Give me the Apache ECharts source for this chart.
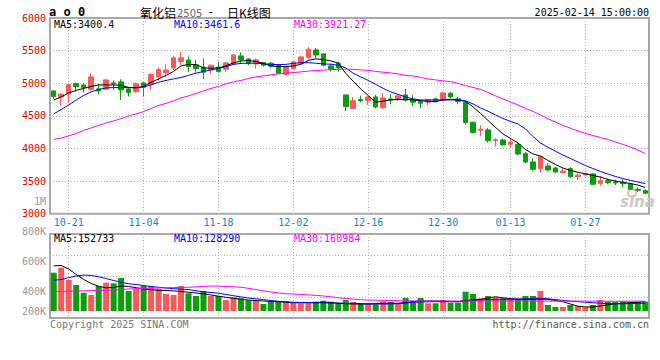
<!DOCTYPE html>
<html><head><meta charset="utf-8">
<script src="https://cdn.jsdelivr.net/npm/echarts@6/dist/echarts.min.js"></script>
<style>html,body{margin:0;padding:0;background:#fff}#c{width:660px;height:360px}</style>
</head><body><div id="c"></div>
<script>
const dates = ['10-17','10-18','10-21','10-22','10-23','10-24','10-25','10-28','10-29','10-30','10-31',
'11-01','11-04','11-05','11-06','11-07','11-08','11-11','11-12','11-13','11-14','11-15','11-18','11-19','11-20','11-21','11-22','11-25','11-26','11-27','11-28','11-29',
'12-02','12-03','12-04','12-05','12-06','12-09','12-10','12-11','12-12','12-13','12-16','12-17','12-18','12-19','12-20','12-23','12-24','12-25','12-26','12-27','12-30','12-31',
'01-02','01-03','01-06','01-07','01-08','01-09','01-10','01-13','01-14','01-15','01-16','01-17','01-20','01-21','01-22','01-23','01-24','01-27',
'02-05','02-06','02-07','02-10','02-11','02-12','02-13','02-14'];
const dateLabels = ['10-21','11-04','11-18','12-02','12-16','12-30','01-13','01-27'];

const opens = [4882,4790,4836,4994,4974,4908,4913,4908,5005,5020, 4913,4871,5005,4985,5097,5163,5235,5332,5358,5281,
5246,5204,5246,5215,5296,5419,5373,5296,5317,5307, 5276,5138,5225,5307,5399,5511,5450,5266,5307,4821,
4611,4749,4733,4790,4626,4760,4760,4821,4755,4719, 4709,4760,4744,4847,4760,4703,4402,4279,4284,4120,
4130,4064,4059,3920,3793,3690,3732,3701,3629,3690, 3570,3594,3609,3466,3506,3486,3481,3456,3374,3353];
const closes = [4795,4830,4979,4948,4933,5097,4882,5051,4990,4898, 4856,4994,4939,5132,5209,5204,5389,5389,5255,5225,
5169,5276,5178,5312,5434,5358,5307,5358,5276,5261, 5154,5246,5327,5404,5522,5434,5276,5215,5235,4641,
4733,4729,4790,4637,4775,4744,4805,4740,4709,4694, 4749,4719,4852,4790,4719,4396,4243,4295,4120,4135,
4054,4100,3916,3793,3681,3874,3670,3640,3655,3568, 3590,3614,3451,3506,3476,3471,3461,3374,3358,3313];
const lows = [4760,4657,4703,4871,4862,4887,4832,4898,4898,4744, 4795,4847,4805,4898,5040,5097,5204,5281,5174,5163,
5062,5143,5174,5178,5276,5296,5276,5225,5255,5240, 5143,5130,5215,5296,5368,5384,5260,5180,5178,4575,
4605,4709,4667,4616,4611,4678,4729,4719,4652,4616, 4667,4709,4729,4770,4678,4365,4230,4192,4089,4028,
4049,4018,3900,3773,3660,3629,3650,3620,3620,3548, 3517,3580,3440,3430,3456,3440,3405,3360,3333,3300];
const highs = [4890,4845,4985,5009,5000,5148,4985,5066,5040,5062, 4944,5010,5015,5154,5240,5292,5419,5481,5409,5358,
5384,5286,5327,5327,5440,5470,5380,5378,5327,5327, 5292,5255,5335,5420,5553,5542,5460,5300,5332,4821,
4790,4810,4790,4821,4852,4832,4832,4913,4816,4739, 4760,4780,4871,4862,4790,4724,4410,4356,4315,4161,
4150,4161,4080,3946,3850,3885,3773,3721,3690,3712, 3620,3625,3625,3578,3537,3520,3528,3466,3405,3370];

const ma5 = [4744,4790,4852,4890,4921,4951,4974,4974,4974,4967, 4936,4928,4951,5013,5066,5120,5181,5266,5289,5286,
5235,5230,5235,5266,5312,5342,5347,5335,5304,5266, 5255,5255,5266,5289,5350,5373,5365,5342,5307,5150,
5030,4913,4810,4710,4725,4744,4752,4752,4744,4733, 4721,4718,4744,4755,4744,4721,4637,4537,4430,4322,
4223,4154,4085,3985,3916,3885,3816,3755,3701,3663, 3635,3612,3586,3563,3525,3502,3479,3463,3440,3400.4];
const ma10 = [4529,4598,4667,4744,4813,4867,4905,4928,4933,4933, 4933,4933,4944,4974,5016,5043,5066,5089,5120,5154,
5181,5204,5227,5255,5289,5304,5307,5307,5299,5289, 5286,5289,5304,5315,5315,5307,5296,5292,5276,5235,
5153,5097,5043,4982,4921,4867,4829,4790,4759,4744, 4744,4744,4744,4744,4744,4729,4683,4621,4570,4514,
4460,4414,4376,4299,4184,4085,4019,3958,3900,3847, 3793,3739,3693,3647,3609,3571,3540,3512,3486,3461.6];
const ma30 = [4138,4161,4192,4230,4276,4315,4353,4391,4422,4457, 4499,4529,4565,4614,4660,4691,4729,4775,4806,4844,
4882,4921,4951,4990,5020,5043,5071,5097,5112,5128, 5143,5154,5163,5174,5186,5194,5201,5209,5212,5215,
5212,5204,5197,5181,5169,5158,5143,5120,5112,5089, 5066,5051,5036,5025,4997,4964,4936,4905,4859,4806,
4759,4713,4667,4614,4568,4514,4453,4407,4353,4310, 4269,4230,4199,4169,4138,4100,4062,4023,3977,3921.27];

const volumes = [628000,710000,508000,426000,300000,262000,410000,464000,454000,541000,
328000,361000,410000,410000,361000,279000,262000,410000,290000,246000,
328000,246000,246000,180000,225000,208000,175000,169000,115000,153000,
164000,164000,136000,126000,126000,153000,169000,153000,126000,180000,
148000,126000,126000,110000,159000,153000,115000,213000,164000,213000,
126000,126000,180000,136000,136000,317000,279000,208000,246000,225000,
208000,192000,192000,246000,246000,328000,98000,66000,66000,98000,
82000,61000,98000,180000,153000,150000,158000,150000,152000,154000];
const volMa5 = [741000,746000,689000,599000,517000,451000,405000,380000,385000,410000,
402000,382000,364000,348000,339000,335000,330000,320000,307000,295000,
282000,262000,243000,225000,207000,192000,180000,171000,164000,157000,
153000,144000,136000,136000,136000,139000,144000,139000,128000,118000,
115000,115000,115000,121000,126000,126000,128000,139000,153000,164000,
164000,164000,161000,156000,153000,172000,184000,190000,213000,233000,
216000,203000,195000,192000,192000,194000,192000,172000,151000,115000,
79000,66000,66000,82000,102000,118000,128000,136000,144000,152733];
const volMa10 = [505000,515000,548000,574000,590000,582000,561000,533000,500000,472000,
446000,435000,417000,402000,389000,377000,367000,358000,351000,331000,
315000,303000,292000,271000,251000,231000,213000,200000,187000,172000,
159000,148000,143000,139000,136000,134000,133000,131000,130000,126000,
125000,121000,115000,115000,115000,115000,121000,131000,143000,148000,
151000,153000,153000,153000,153000,161000,172000,180000,187000,190000,
192000,192000,194000,198000,205000,208000,200000,187000,174000,161000,
154000,144000,136000,128000,122000,118000,118000,121000,125000,128290];
const volMa30 = [317000,320000,325000,328000,331000,335000,338000,341000,344000,351000,
361000,367000,371000,374000,377000,380000,384000,387000,390000,395000,
403000,410000,408000,402000,397000,389000,372000,353000,331000,312000,
295000,284000,279000,271000,264000,256000,246000,233000,218000,205000,
195000,185000,180000,177000,174000,172000,169000,167000,166000,164000,
164000,164000,164000,164000,164000,164000,164000,164000,164000,164000,
164000,163000,163000,163000,163000,162000,162000,162000,162000,162000,
162000,162000,161000,161000,161000,161000,161000,161000,161000,160984];

const priceMin = 3000, priceMax = 6000, priceStep = 500;
const volLabelMin = 200000, volLabelMax = 1000000, volLabelStep = 200000;

const MONO = "'DejaVu Sans Mono', monospace";
const RED = '#f65a5a', GREEN = '#0a9f0a';
const GRIDC = '#b4b4b4';
const FRAME = '#a8a8a8';
const dotted = {color: GRIDC, type: [1, 2], width: 1};
const isLabel = (i, v) => dateLabels.indexOf(v) >= 0;

const chart = echarts.init(document.getElementById('c'), null, {renderer: 'svg'});
const last = a => a[a.length - 1];

const candleData = dates.map((d, i) => [opens[i], closes[i], lows[i], highs[i]]);
const volData = volumes.map((v, i) => ({value: v, itemStyle: {color: closes[i] >= opens[i] ? RED : GREEN}}));

const lineS = (name, data, color, xi, yi) => ({
  name, type: 'line', data, xAxisIndex: xi, yAxisIndex: yi, showSymbol: false, symbol: 'none',
  silent: true, lineStyle: {color, width: 1}, z: 5
});

function t(text, x, y, fill, opts) {
  return Object.assign({type: 'text', x, y, silent: true, z: 100,
    style: Object.assign({text, fill, font: '10px ' + MONO, verticalAlign: 'middle', align: 'left'}, opts || {})});
}

chart.setOption({
  animation: false,
  backgroundColor: '#fff',
  grid: [
    {left: 50, top: 18, width: 599, height: 195.7, show: true, borderColor: FRAME, borderWidth: 2},
    {left: 50, top: 234, width: 599, height: 84, show: true, borderColor: FRAME, borderWidth: 2},
    {left: 50, top: 201, width: 599, height: 120, show: false}
  ],
  xAxis: [
    {type: 'category', gridIndex: 0, data: dates, boundaryGap: true,
      axisLine: {show: false}, axisTick: {show: false},
      axisLabel: {interval: isLabel, color: '#1a7fd6', fontFamily: MONO, fontSize: 10, margin: 4},
      splitLine: {show: true, interval: isLabel, alignWithLabel: true, lineStyle: dotted}},
    {type: 'category', gridIndex: 1, data: dates, boundaryGap: true,
      axisLine: {show: false}, axisTick: {show: false}, axisLabel: {show: false},
      splitLine: {show: true, interval: isLabel, alignWithLabel: true, lineStyle: dotted}},
    {type: 'value', gridIndex: 2, show: false, min: 0, max: 1}
  ],
  yAxis: [
    {type: 'value', gridIndex: 0, min: priceMin, max: priceMax, interval: priceStep,
      axisLine: {show: false}, axisTick: {show: false},
      axisLabel: {color: '#e00000', fontFamily: MONO, fontSize: 10, margin: 4, formatter: v => String(v)},
      splitLine: {show: true, lineStyle: dotted}},
    {type: 'value', gridIndex: 1, min: -114800, max: 1262800,
      axisLine: {show: false}, axisTick: {show: false}, axisLabel: {show: false}, splitLine: {show: false}},
    {type: 'value', gridIndex: 1, min: 0, max: 4, interval: 1, position: 'right',
      axisLine: {show: false}, axisTick: {show: false}, axisLabel: {show: false},
      splitLine: {show: true, lineStyle: dotted}},
    {type: 'value', gridIndex: 2, min: volLabelMin, max: volLabelMax, interval: volLabelStep,
      axisLine: {show: false}, axisTick: {show: false}, splitLine: {show: false},
      axisLabel: {color: '#999', fontFamily: MONO, fontSize: 10, margin: 4,
        formatter: v => v === volLabelMin ? '{s|' + (v / 1000) + 'K}' : (v >= 1000000 ? (v / 1000000) + 'M' : (v / 1000) + 'K'),
        rich: {s: {color: '#999', fontFamily: MONO, fontSize: 10, padding: [0, 0, 20, 0]}}}}
  ],
  series: [
    {name: 'K', type: 'candlestick', xAxisIndex: 0, yAxisIndex: 0, data: candleData, barWidth: 5,
      itemStyle: {color: RED, color0: GREEN, borderColor: RED, borderColor0: GREEN, borderWidth: 1}, z: 3},
    lineS('MA5', ma5, '#000000', 0, 0),
    lineS('MA10', ma10, '#0000ff', 0, 0),
    lineS('MA30', ma30, '#ff00ff', 0, 0),
    {name: 'VOL', type: 'bar', xAxisIndex: 1, yAxisIndex: 1, data: volData, barWidth: 6, z: 3},
    lineS('VMA5', volMa5, '#000000', 1, 1),
    lineS('VMA10', volMa10, '#0000ff', 1, 1),
    lineS('VMA30', volMa30, '#ff00ff', 1, 1)
  ],
  graphic: [
    t('a o 0', 49, 12, '#000', {font: 'bold 12px ' + MONO}),
    t('氧化铝', 140, 12, '#000', {font: '12px "Noto Sans CJK SC"'}),
    t('2505', 177, 13, '#666', {font: '10px "DejaVu Sans"'}),
    t('-', 207, 12, '#000', {font: '12px ' + MONO}),
    t('日K线图', 227, 12, '#000', {font: '12px "Noto Sans CJK SC"'}),
    t('2025-02-14 15:00:00', 649, 12, '#000', {align: 'right'}),
    t('MA5:' + last(ma5).toFixed(1), 54, 24, '#000'),
    t('MA10:' + last(ma10).toFixed(1), 174, 24, '#0000ff'),
    t('MA30:' + last(ma30).toFixed(2), 294, 24, '#ff00ff'),
    t('MA5:' + last(volMa5), 54, 238, '#000'),
    t('MA10:' + last(volMa10), 174, 238, '#0000ff'),
    t('MA30:' + last(volMa30), 294, 238, '#ff00ff'),
    t('Copyright 2025 SINA.COM', 50, 324, '#777'),
    t('http://finance.sina.com.cn', 649, 324, '#555', {align: 'right'}),
    {type: 'circle', shape: {cx: 632, cy: 193, r: 4}, silent: true, z: 1,
      style: {fill: 'none', stroke: '#f3b3b3', lineWidth: 2}},
    t('sina', 620, 202, '#c8c8c8', {font: 'italic bold 15px "DejaVu Sans"'})
  ]
});
</script></body></html>
